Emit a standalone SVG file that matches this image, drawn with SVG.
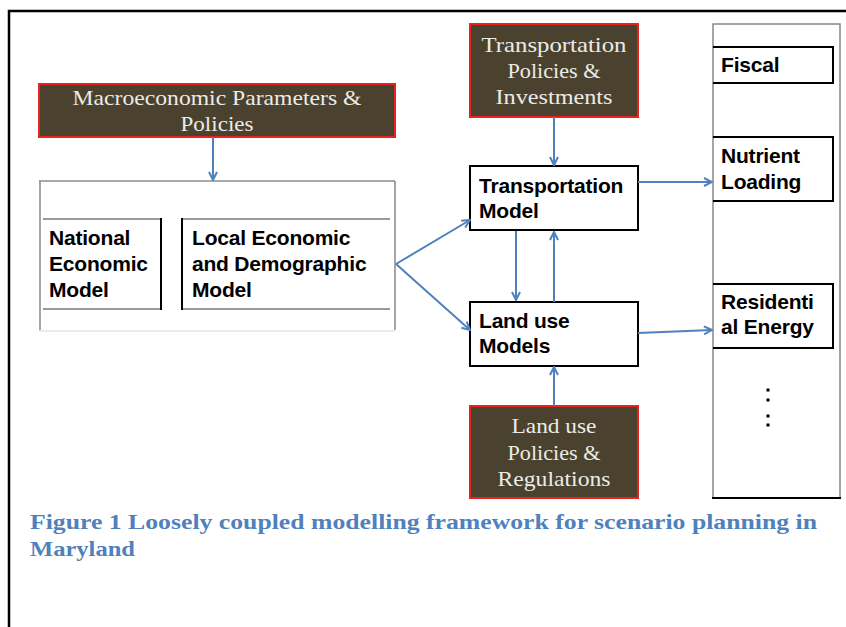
<svg xmlns="http://www.w3.org/2000/svg" width="846" height="627" viewBox="0 0 846 627">
<defs>
<style>
.pol{fill:#4a422f;stroke:#e8231f;stroke-width:2}
.pt{font-family:"Liberation Serif","Times New Roman",serif;font-size:21px;fill:#ecebe6;text-anchor:middle}
.mt{font-family:"Liberation Sans",Arial,sans-serif;font-size:21px;font-weight:bold;fill:#000;letter-spacing:-0.2px}
.mb{fill:#fff;stroke:#000;stroke-width:2}
.gl{stroke:#888;stroke-width:1.5;fill:none}
.bl{stroke:#000;stroke-width:2;fill:none}
.thin{stroke:#333;stroke-width:1;fill:none}
.cn{stroke:#4f81bd;stroke-width:2;fill:none;marker-end:url(#ah)}
.cap{font-family:"Liberation Serif",Cambria,serif;font-size:22px;font-weight:bold;fill:#4f81bd}
</style>
<marker id="ah" viewBox="0 0 10 10" refX="9" refY="5" markerWidth="10" markerHeight="10" markerUnits="userSpaceOnUse" orient="auto">
<path d="M1,1 L9,5 L1,9" fill="none" stroke="#4f81bd" stroke-width="2"/>
</marker>
</defs>
<rect width="846" height="627" fill="#fff"/>
<g id="frame">
<path d="M9,627 V11 H846" fill="none" stroke="#000" stroke-width="2.5"/>
</g>
<g id="macro">
<rect class="pol" x="39" y="84" width="356" height="53"/>
<text class="pt" x="217" y="105" textLength="289" lengthAdjust="spacingAndGlyphs">Macroeconomic Parameters &amp;</text>
<text class="pt" x="217" y="131" textLength="73" lengthAdjust="spacingAndGlyphs">Policies</text>
</g>
<g id="economic-models">
<line x1="39" y1="181" x2="395" y2="181" stroke="#555" stroke-width="1.2"/>
<line class="gl" x1="40" y1="181" x2="40" y2="330"/>
<line class="gl" x1="395" y1="181" x2="395" y2="330"/>
<line x1="39" y1="331" x2="395" y2="331" stroke="#e4e4e4" stroke-width="1.5"/>
</g>
<g id="national">
<path class="thin" d="M43,219 H161 M43,309 H161"/>
<line class="bl" x1="161" y1="218" x2="161" y2="310"/>
<text class="mt" x="49" y="245">National</text>
<text class="mt" x="49" y="271">Economic</text>
<text class="mt" x="49" y="297">Model</text>
</g>
<g id="local">
<path class="thin" d="M182,219 H390 M182,309 H390"/>
<line class="bl" x1="182" y1="218" x2="182" y2="310"/>
<text class="mt" x="192" y="245">Local Economic</text>
<text class="mt" x="192" y="271">and Demographic</text>
<text class="mt" x="192" y="297">Model</text>
</g>
<g id="transport-policies">
<rect class="pol" x="470" y="24" width="168" height="93"/>
<text class="pt" x="554" y="52" textLength="145" lengthAdjust="spacingAndGlyphs">Transportation</text>
<text class="pt" x="554" y="78" textLength="93" lengthAdjust="spacingAndGlyphs">Policies &amp;</text>
<text class="pt" x="554" y="104" textLength="117" lengthAdjust="spacingAndGlyphs">Investments</text>
</g>
<g id="transport-model">
<rect class="mb" x="470" y="166" width="168" height="64"/>
<text class="mt" x="479" y="193">Transportation</text>
<text class="mt" x="479" y="218">Model</text>
</g>
<g id="landuse-model">
<rect class="mb" x="470" y="302" width="168" height="64"/>
<text class="mt" x="479" y="328">Land use</text>
<text class="mt" x="479" y="353">Models</text>
</g>
<g id="landuse-policies">
<rect class="pol" x="470" y="406" width="168" height="92"/>
<text class="pt" x="554" y="433" textLength="85" lengthAdjust="spacingAndGlyphs">Land use</text>
<text class="pt" x="554" y="460" textLength="93" lengthAdjust="spacingAndGlyphs">Policies &amp;</text>
<text class="pt" x="554" y="486" textLength="113" lengthAdjust="spacingAndGlyphs">Regulations</text>
</g>
<g id="outputs">
<path class="gl" d="M713,498 V24 H840 V498"/>
<line x1="712" y1="498" x2="841" y2="498" stroke="#000" stroke-width="2"/>
</g>
<g id="fiscal">
<path class="bl" d="M713,47 H833 V83 H713"/>
<text class="mt" x="721" y="72">Fiscal</text>
</g>
<g id="nutrient">
<path class="bl" d="M713,137 H833 V201 H713"/>
<text class="mt" x="721" y="163">Nutrient</text>
<text class="mt" x="721" y="189">Loading</text>
</g>
<g id="residential">
<path class="bl" d="M713,284 H833 V348 H713"/>
<text class="mt" x="721" y="309">Residenti</text>
<text class="mt" x="721" y="334">al Energy</text>
</g>
<g id="ellipsis" fill="#000">
<rect x="766.5" y="388.5" width="3" height="3"/>
<rect x="766.5" y="398.5" width="3" height="3"/>
<rect x="766.5" y="414.5" width="3" height="3"/>
<rect x="766.5" y="423.5" width="3" height="3"/>
</g>
<g id="connectors">
<line class="cn" x1="213" y1="137" x2="213" y2="180"/>
<line class="cn" x1="554" y1="117" x2="554" y2="165"/>
<line class="cn" x1="516" y1="231" x2="516" y2="300"/>
<line class="cn" x1="554" y1="302" x2="554" y2="232"/>
<line class="cn" x1="554" y1="406" x2="554" y2="367"/>
<line class="cn" x1="396" y1="264" x2="470" y2="220"/>
<line class="cn" x1="396" y1="264" x2="470" y2="330"/>
<line class="cn" x1="638" y1="182" x2="712" y2="182"/>
<line class="cn" x1="638" y1="333" x2="712" y2="330"/>
</g>
<g id="caption">
<text class="cap" x="30" y="529" textLength="787" lengthAdjust="spacingAndGlyphs">Figure 1 Loosely coupled modelling framework for scenario planning in</text>
<text class="cap" x="30" y="556" textLength="105" lengthAdjust="spacingAndGlyphs">Maryland</text>
</g>
</svg>
